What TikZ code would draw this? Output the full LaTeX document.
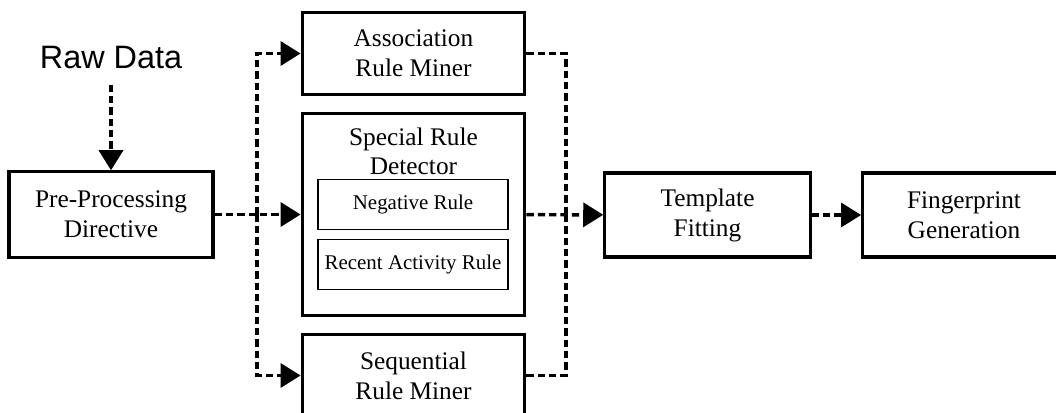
\documentclass[tikz,border=0pt]{standalone}
\usepackage{fontspec}
\setmainfont{Liberation Serif}
\newfontfamily\arialfont{Liberation Sans}
\usepackage{tikz}
\usetikzlibrary{calc,arrows.meta}

\begin{document}
\begin{tikzpicture}[x=0.75pt,y=-0.75pt,
        block/.style={draw,line width=2.4pt,align=center,
            minimum width=167pt,minimum height=62pt,
            font=\fontsize{19pt}{22.5pt}\selectfont},
        subblock/.style={draw,line width=0.8pt,
            minimum width=142.5pt,minimum height=37pt,
            font=\fontsize{15.7pt}{18pt}\selectfont},
        dashline/.style={line width=2.6pt,dash pattern=on 5.5pt off 3pt},
        flow/.style={dashline,-{Triangle[length=15pt,width=18pt]}}]
    \clip (0,0) rectangle (1056,412);
    % input and pre-processing
    \node[font=\arialfont\fontsize{24.3pt}{28pt}\selectfont] (raw) at (111,58) {Raw Data};
    \node[block,minimum width=153pt,minimum height=64pt] (pre) at (111,214.5) {Pre-Processing\\Directive};
        % the three miners
    \node[block] (assoc) at (413.5,53.5) {Association\\Rule Miner};
    \node[block,minimum height=152pt] (special) at (413.5,214.5) {};
    \node[align=center,font=\fontsize{19pt}{21.5pt}\selectfont] (spectitle) at (413.5,151) {Special Rule\\Detector};
    \node[subblock] (neg) at (413,204.5) {Negative Rule};
    \node[subblock] (recent) at (413,264.5) {Recent Activity Rule};
    \node[block] (seq) at (413.5,375.5) {Sequential\\Rule Miner};
        % output side
    \node[block,minimum width=154pt,minimum height=63pt] (templ) at (707.5,215) {Template\\Fitting};
    \node[block,minimum width=152pt,minimum height=63pt] (finger) at (964,215) {Fingerprint\\Generation};
    \coordinate (split) at (257,214.5);
    \coordinate (join) at (566,214.5);
    \draw[flow,shorten <=8pt] (raw) -- (pre);
    \draw[flow] (pre) -- (special);
    \draw[flow] (split) |- (assoc);
    \draw[flow] (split) |- (seq);
    \draw[dashline] (assoc) -| (join);
    \draw[dashline] (seq) -| (join);
    \draw[flow] (special) -- (templ);
    \draw[flow] (templ) -- (finger);
\end{tikzpicture}
\end{document}
